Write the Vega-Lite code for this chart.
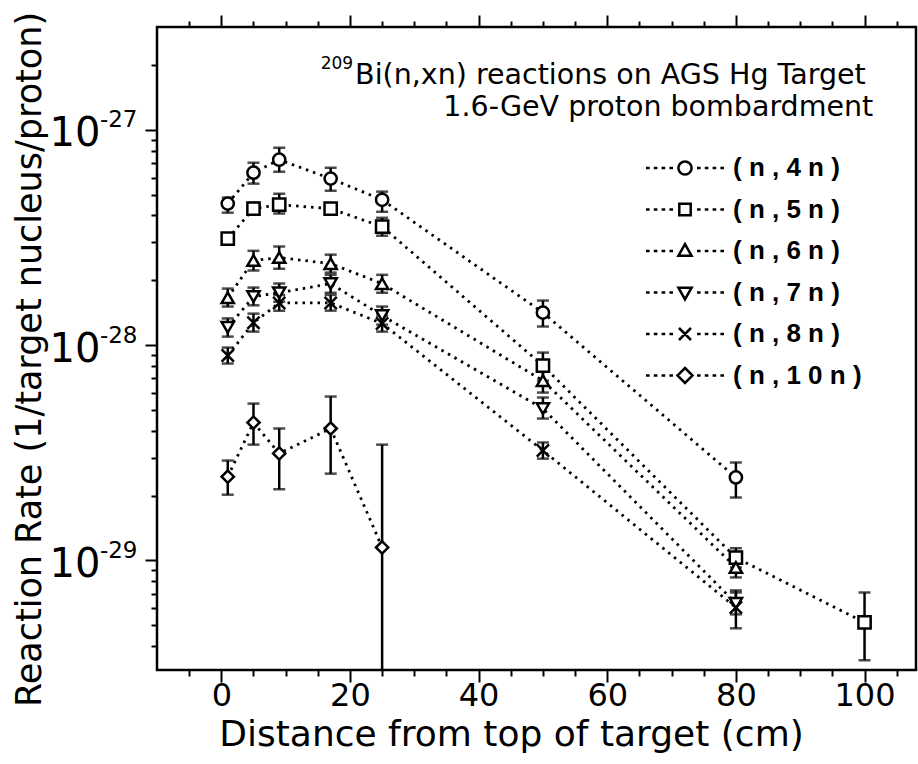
{
  "$schema": "https://vega.github.io/schema/vega-lite/v6.json",
  "width": 759,
  "height": 643,
  "autosize": {"type": "none"},
  "padding": {"left": 157, "top": 27, "right": 2, "bottom": 94},
  "background": "white",
  "config": {
    "view": {"stroke": "black", "strokeWidth": 2.5},
    "font": "DejaVu Sans",
    "axis": {"domain": false, "grid": false, "labelColor": "black", "titleColor": "black", "labelFont": "DejaVu Sans", "titleFont": "DejaVu Sans", "titleFontWeight": "normal"}
  },
  "datasets": {
    "rates": [
      {"reaction": "(n,4n)", "distance": 1, "rate": 4.54e-28, "lo": 4.12e-28, "hi": 4.84e-28},
      {"reaction": "(n,4n)", "distance": 5, "rate": 6.32e-28, "lo": 5.62e-28, "hi": 7.03e-28},
      {"reaction": "(n,4n)", "distance": 9, "rate": 7.26e-28, "lo": 6.39e-28, "hi": 8.25e-28},
      {"reaction": "(n,4n)", "distance": 17, "rate": 5.93e-28, "lo": 5.21e-28, "hi": 6.66e-28},
      {"reaction": "(n,4n)", "distance": 25, "rate": 4.73e-28, "lo": 4.16e-28, "hi": 5.16e-28},
      {"reaction": "(n,4n)", "distance": 50, "rate": 1.415e-28, "lo": 1.22e-28, "hi": 1.61e-28},
      {"reaction": "(n,4n)", "distance": 80, "rate": 2.43e-29, "lo": 1.96e-29, "hi": 2.85e-29},
      {"reaction": "(n,5n)", "distance": 1, "rate": 3.12e-28, "lo": 2.96e-28, "hi": 3.29e-28},
      {"reaction": "(n,5n)", "distance": 5, "rate": 4.30e-28, "lo": 4.03e-28, "hi": 4.58e-28},
      {"reaction": "(n,5n)", "distance": 9, "rate": 4.49e-28, "lo": 4.08e-28, "hi": 5.05e-28},
      {"reaction": "(n,5n)", "distance": 17, "rate": 4.30e-28, "lo": 4.08e-28, "hi": 4.54e-28},
      {"reaction": "(n,5n)", "distance": 25, "rate": 3.55e-28, "lo": 3.22e-28, "hi": 3.90e-28},
      {"reaction": "(n,5n)", "distance": 50, "rate": 8.03e-29, "lo": 6.84e-29, "hi": 9.23e-29},
      {"reaction": "(n,5n)", "distance": 80, "rate": 1.03e-29, "lo": 9.28e-30, "hi": 1.14e-29},
      {"reaction": "(n,5n)", "distance": 100, "rate": 5.16e-30, "lo": 3.44e-30, "hi": 7.10e-30},
      {"reaction": "(n,6n)", "distance": 1, "rate": 1.66e-28, "lo": 1.51e-28, "hi": 1.83e-28},
      {"reaction": "(n,6n)", "distance": 5, "rate": 2.47e-28, "lo": 2.22e-28, "hi": 2.74e-28},
      {"reaction": "(n,6n)", "distance": 9, "rate": 2.55e-28, "lo": 2.26e-28, "hi": 2.87e-28},
      {"reaction": "(n,6n)", "distance": 17, "rate": 2.39e-28, "lo": 2.17e-28, "hi": 2.63e-28},
      {"reaction": "(n,6n)", "distance": 25, "rate": 1.93e-28, "lo": 1.75e-28, "hi": 2.12e-28},
      {"reaction": "(n,6n)", "distance": 50, "rate": 6.84e-29, "lo": 6.02e-29, "hi": 7.61e-29},
      {"reaction": "(n,6n)", "distance": 80, "rate": 9.28e-30, "lo": 8.34e-30, "hi": 1.03e-29},
      {"reaction": "(n,7n)", "distance": 1, "rate": 1.21e-28, "lo": 1.095e-28, "hi": 1.33e-28},
      {"reaction": "(n,7n)", "distance": 5, "rate": 1.68e-28, "lo": 1.53e-28, "hi": 1.85e-28},
      {"reaction": "(n,7n)", "distance": 9, "rate": 1.75e-28, "lo": 1.59e-28, "hi": 1.93e-28},
      {"reaction": "(n,7n)", "distance": 17, "rate": 1.93e-28, "lo": 1.75e-28, "hi": 2.12e-28},
      {"reaction": "(n,7n)", "distance": 25, "rate": 1.37e-28, "lo": 1.245e-28, "hi": 1.51e-28},
      {"reaction": "(n,7n)", "distance": 50, "rate": 5.07e-29, "lo": 4.56e-29, "hi": 5.71e-29},
      {"reaction": "(n,7n)", "distance": 80, "rate": 6.32e-30, "lo": 5.62e-30, "hi": 7.10e-30},
      {"reaction": "(n,8n)", "distance": 1, "rate": 8.94e-29, "lo": 8.21e-29, "hi": 9.74e-29},
      {"reaction": "(n,8n)", "distance": 5, "rate": 1.27e-28, "lo": 1.155e-28, "hi": 1.40e-28},
      {"reaction": "(n,8n)", "distance": 9, "rate": 1.57e-28, "lo": 1.445e-28, "hi": 1.71e-28},
      {"reaction": "(n,8n)", "distance": 17, "rate": 1.57e-28, "lo": 1.445e-28, "hi": 1.71e-28},
      {"reaction": "(n,8n)", "distance": 25, "rate": 1.26e-28, "lo": 1.155e-28, "hi": 1.37e-28},
      {"reaction": "(n,8n)", "distance": 50, "rate": 3.24e-29, "lo": 2.97e-29, "hi": 3.53e-29},
      {"reaction": "(n,8n)", "distance": 80, "rate": 6.05e-30, "lo": 4.84e-30, "hi": 7.26e-30},
      {"reaction": "(n,10n)", "distance": 1, "rate": 2.45e-29, "lo": 2.02e-29, "hi": 2.91e-29},
      {"reaction": "(n,10n)", "distance": 5, "rate": 4.37e-29, "lo": 3.45e-29, "hi": 5.35e-29},
      {"reaction": "(n,10n)", "distance": 9, "rate": 3.14e-29, "lo": 2.14e-29, "hi": 4.10e-29},
      {"reaction": "(n,10n)", "distance": 17, "rate": 4.10e-29, "lo": 2.53e-29, "hi": 5.77e-29},
      {"reaction": "(n,10n)", "distance": 25, "rate": 1.15e-29, "lo": 1e-31, "hi": 3.45e-29}
    ]
  },
  "data": {"name": "rates"},
  "resolve": {
    "axis": {"x": "independent", "y": "independent"},
    "scale": {"shape": "independent"},
    "legend": {"shape": "independent"}
  },
  "layer": [
    {
      "mark": {"type": "line", "color": "black", "strokeWidth": 2.8, "strokeDash": [2.5, 5]},
      "encoding": {
        "x": {"field": "distance", "type": "quantitative",
              "scale": {"domain": [-10, 108], "nice": false, "zero": false},
              "axis": {"orient": "bottom", "values": [0, 20, 40, 60, 80, 100], "ticks": true, "tickSize": 12, "tickColor": "black", "tickWidth": 2, "labelFontSize": 32, "labelPadding": -2, "title": "Distance from top of target (cm)", "titleFontSize": 36, "titlePadding": 6, "titleX": 354}},
        "y": {"field": "rate", "type": "quantitative",
              "scale": {"type": "log", "domain": [3.1e-30, 3e-27], "nice": false},
              "axis": {"orient": "left", "values": [1e-29, 1e-28, 1e-27], "ticks": true, "tickSize": 12, "tickColor": "black", "tickWidth": 2, "labelFontSize": 40, "labelPadding": 45, "labelOffset": 4,
                       "labelExpr": "'10'",
                       "title": "Reaction Rate (1/target nucleus/proton)", "titleFontSize": 35, "titlePadding": 2, "titleY": 332}},
        "detail": {"field": "reaction"},
        "order": {"field": "distance"}
      }
    },
    {
      "mark": {"type": "rule", "color": "black", "strokeWidth": 2.5, "clip": true},
      "encoding": {
        "x": {"field": "distance", "type": "quantitative",
              "axis": {"orient": "bottom", "values": [-5, 5, 10, 15, 25, 30, 35, 45, 50, 55, 65, 70, 75, 85, 90, 95, 105], "labels": true, "labelExpr": "''", "ticks": true, "tickSize": 6, "tickColor": "black", "tickWidth": 2, "title": null}},
        "y": {"field": "lo", "type": "quantitative",
              "axis": {"orient": "left", "values": [4e-30, 5e-30, 6e-30, 7e-30, 8e-30, 9e-30, 2e-29, 3e-29, 4e-29, 5e-29, 6e-29, 7e-29, 8e-29, 9e-29, 2e-28, 3e-28, 4e-28, 5e-28, 6e-28, 7e-28, 8e-28, 9e-28, 2e-27], "labels": true, "labelExpr": "''", "ticks": true, "tickSize": 6, "tickColor": "black", "tickWidth": 2, "title": null}},
        "y2": {"field": "hi"}
      }
    },
    {
      "mark": {"type": "tick", "orient": "horizontal", "color": "black", "size": 12, "thickness": 2.5, "clip": true},
      "encoding": {
        "x": {"field": "distance", "type": "quantitative",
              "axis": {"orient": "top", "values": [0, 20, 40, 60, 80, 100], "labels": true, "labelExpr": "''", "ticks": true, "tickSize": 12, "tickColor": "black", "tickWidth": 2, "title": null}},
        "y": {"field": "lo", "type": "quantitative", "axis": null}
      }
    },
    {
      "mark": {"type": "tick", "orient": "horizontal", "color": "black", "size": 12, "thickness": 2.5, "clip": true},
      "encoding": {
        "x": {"field": "distance", "type": "quantitative",
              "axis": {"orient": "top", "values": [-5, 5, 10, 15, 25, 30, 35, 45, 50, 55, 65, 70, 75, 85, 90, 95, 105], "labels": true, "labelExpr": "''", "ticks": true, "tickSize": 6, "tickColor": "black", "tickWidth": 2, "title": null}},
        "y": {"field": "hi", "type": "quantitative", "axis": null}
      }
    },
    {
      "mark": {"type": "point", "filled": true, "fill": "white", "stroke": "black", "strokeWidth": 2.5, "opacity": 1, "size": 150},
      "encoding": {
        "x": {"field": "distance", "type": "quantitative", "axis": null},
        "y": {"field": "rate", "type": "quantitative", "axis": null},
        "shape": {"field": "reaction", "type": "nominal", "legend": null,
                  "scale": {"domain": ["(n,4n)", "(n,5n)", "(n,6n)", "(n,7n)", "(n,8n)", "(n,10n)"],
                            "range": ["circle", "square", "triangle-up", "triangle-down", "M-1,-1L1,1M-1,1L1,-1", "diamond"]}}
      }
    },
    {
      "mark": {"type": "point", "filled": false, "color": "black", "opacity": 0, "size": 144},
      "encoding": {
        "x": {"field": "distance", "type": "quantitative", "axis": null},
        "y": {"field": "rate", "type": "quantitative",
              "axis": {"orient": "left", "values": [1e-29, 1e-28, 1e-27], "ticks": false, "labelFontSize": 23, "labelPadding": 20, "labelOffset": -10,
                       "labelExpr": "datum.value < 5e-29 ? '-29' : datum.value < 5e-28 ? '-28' : '-27'", "title": null}},
        "shape": {"field": "reaction", "type": "nominal",
                  "scale": {"domain": ["(n,4n)", "(n,5n)", "(n,6n)", "(n,7n)", "(n,8n)", "(n,10n)"],
                            "range": [
                              "M-6.5,0H-5.9M-5.2,0H-4.6M-3.9,0H-3.3M-2.6,0H-2.0M2.0,0H2.6M3.3,0H3.9M4.6,0H5.2M5.9,0H6.5M-1.1,0A1.1,1.1,0,1,1,1.1,0A1.1,1.1,0,1,1,-1.1,0Z",
                              "M-6.5,0H-5.9M-5.2,0H-4.6M-3.9,0H-3.3M-2.6,0H-2.0M2.0,0H2.6M3.3,0H3.9M4.6,0H5.2M5.9,0H6.5M-0.95,-0.95H0.95V0.95H-0.95Z",
                              "M-6.5,0H-5.9M-5.2,0H-4.6M-3.9,0H-3.3M-2.6,0H-2.0M2.0,0H2.6M3.3,0H3.9M4.6,0H5.2M5.9,0H6.5M0,-1.15L1.1,0.8H-1.1Z",
                              "M-6.5,0H-5.9M-5.2,0H-4.6M-3.9,0H-3.3M-2.6,0H-2.0M2.0,0H2.6M3.3,0H3.9M4.6,0H5.2M5.9,0H6.5M0,1.15L1.1,-0.8H-1.1Z",
                              "M-6.5,0H-5.9M-5.2,0H-4.6M-3.9,0H-3.3M-2.6,0H-2.0M2.0,0H2.6M3.3,0H3.9M4.6,0H5.2M5.9,0H6.5M-1,-1L1,1M-1,1L1,-1",
                              "M-6.5,0H-5.9M-5.2,0H-4.6M-3.9,0H-3.3M-2.6,0H-2.0M2.0,0H2.6M3.3,0H3.9M4.6,0H5.2M5.9,0H6.5M0,-1.25L1.25,0L0,1.25L-1.25,0Z"
                            ]},
                  "legend": {"orient": "none", "legendX": 515, "legendY": 128, "title": null, "padding": 0,
                             "labelFont": "Liberation Sans", "labelFontSize": 26, "labelFontWeight": "bold", "labelColor": "black",
                             "labelOffset": 35, "rowPadding": 15.5, "symbolSize": 144, "labelBaseline": "middle",
                             "symbolStrokeColor": "black", "symbolFillColor": "white", "symbolStrokeWidth": 2.5, "symbolOpacity": 1,
                             "labelExpr": "join(split(datum.label, ''), ' ')"}}
      }
    },
    {
      "data": {"values": [{"label": "209"}]},
      "mark": {"type": "text", "align": "right", "baseline": "alphabetic", "font": "DejaVu Sans", "fontSize": 17, "color": "black"},
      "encoding": {
        "x": {"datum": 20.5, "type": "quantitative", "axis": null},
        "y": {"datum": 1.919e-27, "type": "quantitative", "axis": null},
        "text": {"field": "label"}
      }
    },
    {
      "data": {"values": [{"label": "Bi(n,xn) reactions on AGS Hg Target"}]},
      "mark": {"type": "text", "align": "left", "baseline": "alphabetic", "font": "DejaVu Sans", "fontSize": 28.5, "color": "black"},
      "encoding": {
        "x": {"datum": 20.8, "type": "quantitative", "axis": null},
        "y": {"datum": 1.6345e-27, "type": "quantitative", "axis": null},
        "text": {"field": "label"}
      }
    },
    {
      "data": {"values": [{"label": "1.6-GeV proton bombardment"}]},
      "mark": {"type": "text", "align": "right", "baseline": "alphabetic", "font": "DejaVu Sans", "fontSize": 28.5, "color": "black"},
      "encoding": {
        "x": {"datum": 101.35, "type": "quantitative", "axis": null},
        "y": {"datum": 1.161e-27, "type": "quantitative", "axis": null},
        "text": {"field": "label"}
      }
    }
  ]
}
